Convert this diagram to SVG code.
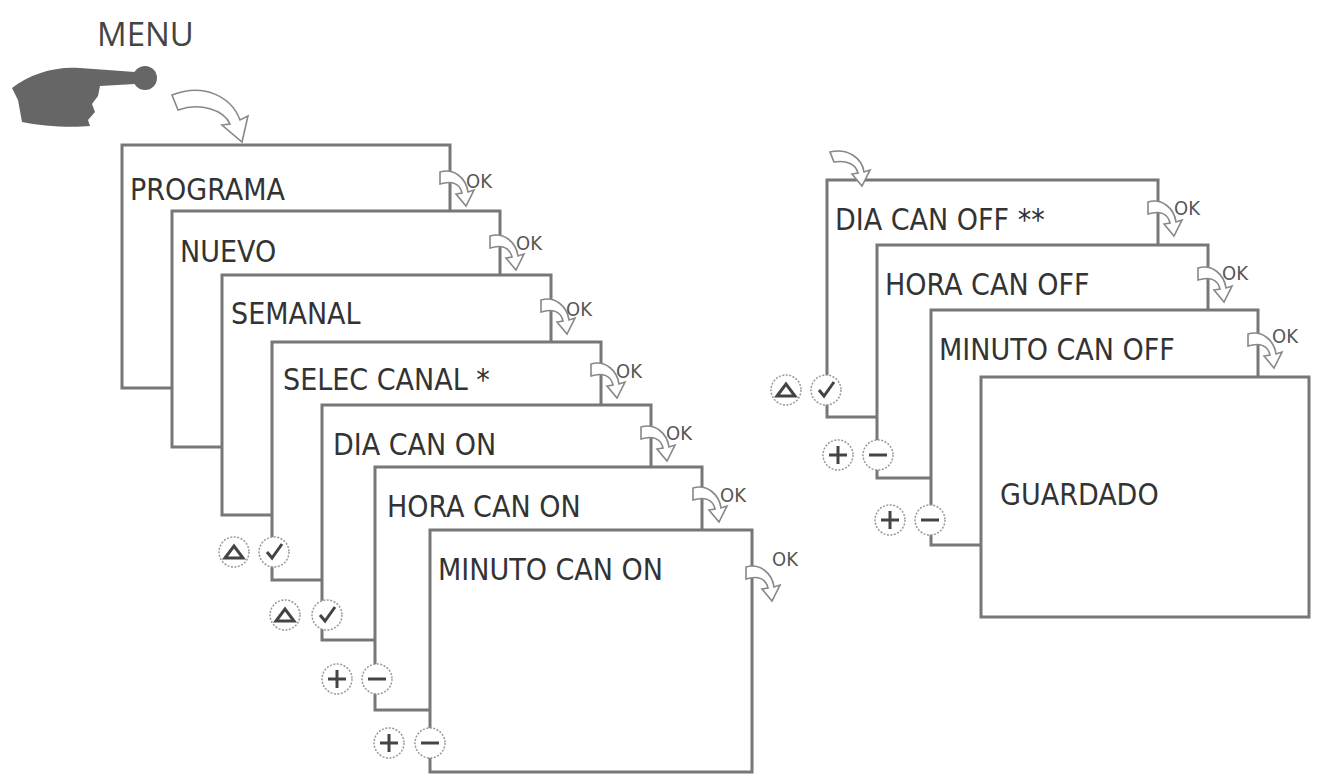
<svg xmlns="http://www.w3.org/2000/svg" width="1323" height="784" viewBox="0 0 1323 784">
<style>
.box{fill:#fff;stroke:#777;stroke-width:3}
.t{font-family:"DejaVu Sans Condensed","DejaVu Sans",sans-serif;font-size:30px;fill:#333;font-weight:300}
.ok{font-family:"DejaVu Sans Condensed","DejaVu Sans",sans-serif;font-size:20px;fill:#555}
.ar{fill:#fff;stroke:#888;stroke-width:1.6}
.ic{fill:#fff;stroke:#999;stroke-width:1.5;stroke-dasharray:2 1.5}
.g{stroke:#444;stroke-width:3;fill:none}
</style>
<defs>
<g id="okarrow"><path class="ar" d="M-12,-8 C2,-12 14,-2 16,12 L22,10 L14,26 L4,14 L10,13 C8,4 0,0 -12,4 Z"/></g>
<g id="tri"><circle class="ic" r="15"/><path class="g" d="M-9,6 L0,-6 L9,6 Z" stroke-width="2.5"/></g>
<g id="chk"><circle class="ic" r="15"/><path class="g" d="M-7,0 L-2,6 L8,-8" stroke-width="2.5"/></g>
<g id="plus"><circle class="ic" r="15"/><path class="g" d="M-9,0 H9 M0,-9 V9"/></g>
<g id="minus"><circle class="ic" r="15"/><path class="g" d="M-9,0 H9"/></g>
</defs>
<text x="97" y="46" font-family="Open Sans,sans-serif" font-size="33" fill="#444">MENU</text>
<g id="hand" fill="#666">
<path d="M12,88 C30,74 55,66 80,68 L135,72 C140,74 140,82 135,84 L100,86 L98,96 L92,104 L95,112 L88,120 L90,126 C70,128 40,126 22,122 L18,100 Z"/>
<circle cx="145" cy="78" r="12"/>
</g>
<path class="ar" d="M172,95 C205,82 232,98 240,120 L248,116 L242,142 L222,125 L230,124 C224,110 200,102 178,110 Z"/>
<g id="n1"><rect class="box" x="122" y="145" width="328" height="243"/><text class="t" x="130" y="200">PROGRAMA</text></g>
<g id="n2"><rect class="box" x="172" y="211" width="328" height="236"/><text class="t" x="180" y="262">NUEVO</text></g>
<g id="n3"><rect class="box" x="222" y="275" width="329" height="240"/><text class="t" x="231" y="324">SEMANAL</text></g>
<g id="n4"><rect class="box" x="272" y="342" width="329" height="238"/><text class="t" x="283" y="390">SELEC CANAL *</text></g>
<g id="n5"><rect class="box" x="322" y="405" width="329" height="235"/><text class="t" x="333" y="455">DIA CAN ON</text></g>
<g id="n6"><rect class="box" x="375" y="467" width="327" height="243"/><text class="t" x="387" y="517">HORA CAN ON</text></g>
<g id="n7"><rect class="box" x="430" y="530" width="322" height="242"/><text class="t" x="438" y="580">MINUTO CAN ON</text></g>
<g id="r1"><rect class="box" x="827" y="180" width="331" height="237"/><text class="t" x="835" y="230">DIA CAN OFF **</text></g>
<g id="r2"><rect class="box" x="877" y="245" width="331" height="233"/><text class="t" x="885" y="295">HORA CAN OFF</text></g>
<g id="r3"><rect class="box" x="931" y="310" width="327" height="235"/><text class="t" x="939" y="360">MINUTO CAN OFF</text></g>
<g id="r4"><rect class="box" x="981" y="377" width="328" height="240"/><text class="t" x="1000" y="505">GUARDADO</text></g>
<g id="connectors">
<use href="#okarrow" x="452" y="180"/><text class="ok" x="466" y="188">OK</text>
<use href="#okarrow" x="502" y="244"/><text class="ok" x="516" y="250">OK</text>
<use href="#okarrow" x="553" y="308"/><text class="ok" x="566" y="316">OK</text>
<use href="#okarrow" x="603" y="372"/><text class="ok" x="616" y="378">OK</text>
<use href="#okarrow" x="653" y="435"/><text class="ok" x="666" y="440">OK</text>
<use href="#okarrow" x="705" y="496"/><text class="ok" x="720" y="502">OK</text>
<use href="#okarrow" x="758" y="575"/><text class="ok" x="772" y="566">OK</text>
<use href="#okarrow" x="1160" y="210"/><text class="ok" x="1174" y="215">OK</text>
<use href="#okarrow" x="1210" y="276"/><text class="ok" x="1222" y="280">OK</text>
<use href="#okarrow" x="1260" y="342"/><text class="ok" x="1272" y="343">OK</text>
<path class="ar" d="M830,152 C848,148 862,158 864,172 L870,170 L862,186 L852,174 L858,173 C856,165 848,160 834,162 Z"/>
</g>
<use href="#tri" x="234" y="552"/><use href="#chk" x="274" y="552"/>
<use href="#tri" x="285" y="615"/><use href="#chk" x="327" y="615"/>
<use href="#plus" x="337" y="679"/><use href="#minus" x="377" y="679"/>
<use href="#plus" x="389" y="743"/><use href="#minus" x="430" y="743"/>
<use href="#tri" x="786" y="390"/><use href="#chk" x="826" y="390"/>
<use href="#plus" x="838" y="455"/><use href="#minus" x="878" y="455"/>
<use href="#plus" x="890" y="520"/><use href="#minus" x="930" y="520"/>
</svg>
